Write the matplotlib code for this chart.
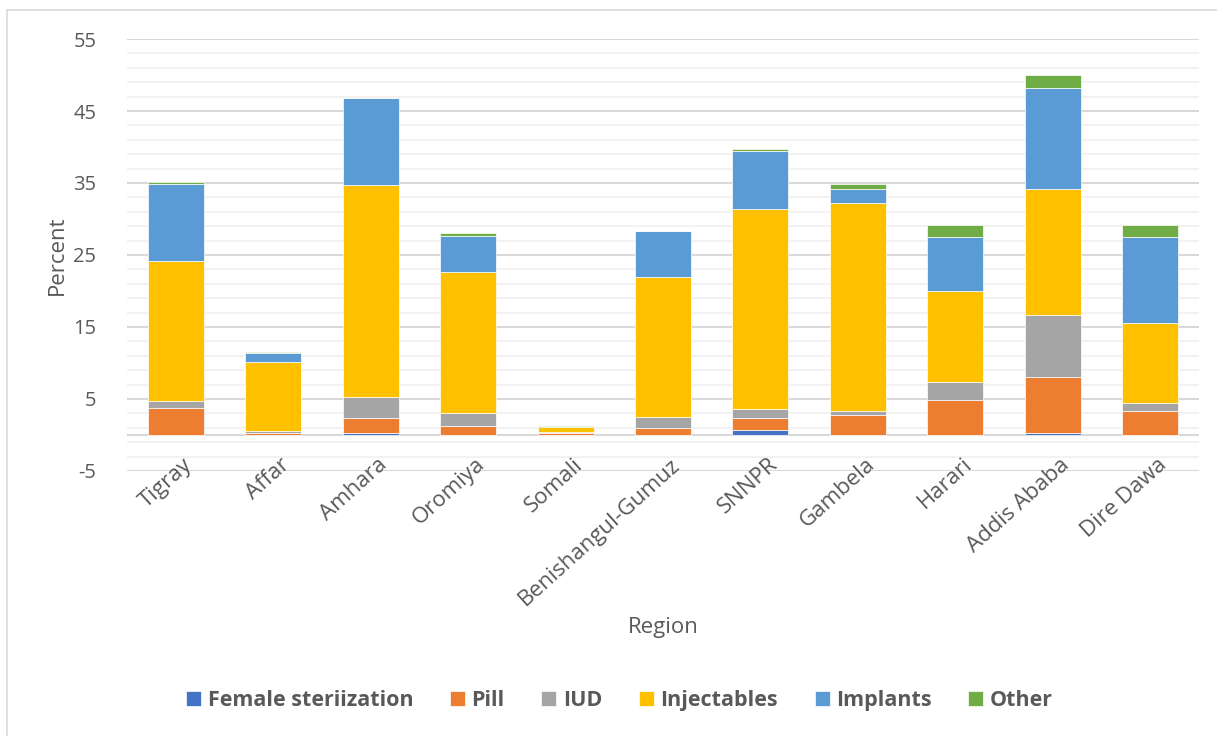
import matplotlib.pyplot as plt
import numpy as np
from matplotlib.patches import Rectangle
from matplotlib.ticker import MultipleLocator
from matplotlib.transforms import ScaledTranslation

plt.rcParams['font.family'] = ['Open Sans', 'DejaVu Sans']
plt.rcParams['axes.unicode_minus'] = False

regions = ['Tigray', 'Affar', 'Amhara', 'Oromiya', 'Somali', 'Benishangul-Gumuz',
           'SNNPR', 'Gambela', 'Harari', 'Addis Ababa', 'Dire Dawa']
female_sterilization = [0.0, 0.0, 0.3, 0.0, 0.0, 0.0, 0.7, 0.0, 0.0, 0.3, 0.0]
pill = [3.7, 0.3, 2.1, 1.3, 0.3, 1.0, 1.6, 2.8, 4.9, 7.8, 3.3]
iud = [1.0, 0.3, 2.9, 1.7, 0.05, 1.5, 1.3, 0.5, 2.5, 8.6, 1.2]
injectables = [19.4, 9.5, 29.4, 19.6, 0.7, 19.5, 27.8, 28.9, 12.6, 17.4, 11.0]
implants = [10.7, 1.3, 12.1, 5.1, 0.1, 6.3, 8.0, 1.9, 7.5, 14.1, 12.0]
other = [0.3, 0.1, 0.0, 0.3, 0.05, 0.0, 0.3, 0.8, 1.7, 1.8, 1.6]

methods = ['Female steriization', 'Pill', 'IUD', 'Injectables', 'Implants', 'Other']
colors = ['#4472C4', '#ED7D31', '#A5A5A5', '#FFC000', '#5B9BD5', '#70AD47']
series = [female_sterilization, pill, iud, injectables, implants, other]

txt = '#595959'

fig = plt.figure(figsize=(12.17, 7.36), dpi=100)
ax = fig.add_axes([0.1044, 0.3601, 0.8808, 0.5869])

x = np.arange(len(regions))
bottom = np.zeros(len(regions))
for name, vals, col in zip(methods, series, colors):
    vals = np.array(vals)
    ax.bar(x, vals, 0.575, bottom=bottom, color=col, label=name,
           edgecolor='white', linewidth=0.5, zorder=3)
    bottom += vals

ax.set_xlim(-0.5, len(regions) - 0.5)
ax.set_ylim(-5, 55)
ax.yaxis.set_major_locator(MultipleLocator(10, offset=5))
ax.yaxis.set_minor_locator(MultipleLocator(2, offset=1))
ax.grid(axis='y', which='major', color='#d9d9d9', linewidth=1.5, zorder=0)
ax.grid(axis='y', which='minor', color='#f2f2f2', linewidth=1.5, zorder=0)
ax.axhline(0, color='#d9d9d9', linewidth=1.5, zorder=2)
for s in ax.spines.values():
    s.set_visible(False)

ax.tick_params(axis='both', which='both', length=0, colors=txt)
ax.tick_params(axis='y', pad=22, labelsize=14.5)
ax.set_xticks(x)
ax.set_xticklabels(regions, rotation=42, ha='right', va='top', rotation_mode='anchor',
                   fontsize=16)
ax.tick_params(axis='x', pad=0)
ax.xaxis.set_zorder(4)  # keep region names on top of the gridlines
shift = ScaledTranslation(0.07, 0.17, fig.dpi_scale_trans)
for lbl in ax.get_xticklabels():
    lbl.set_transform(lbl.get_transform() + shift)

fig.text(0.5448, 0.147, 'Region', ha='center', va='center', fontsize=16, color=txt)
fig.text(0.047, 0.6535, 'Percent', ha='center', va='center', rotation=90,
         fontsize=16, color=txt)

ax.legend(loc='center', bbox_to_anchor=(0.509, 0.048), bbox_transform=fig.transFigure,
          ncol=6, frameon=False, handlelength=0.7, handleheight=0.7,
          handletextpad=0.3, columnspacing=1.7,
          prop={'size': 15.5, 'weight': 'bold'}, labelcolor=txt)

# light frame around the chart area
fig.patches.append(Rectangle((7 / 1217, -0.1), 1.2, 0.1 + 726 / 736, fill=False,
                             edgecolor='#d9d9d9', linewidth=1.2,
                             transform=fig.transFigure, figure=fig))

fig.savefig('out.png', dpi=100)
